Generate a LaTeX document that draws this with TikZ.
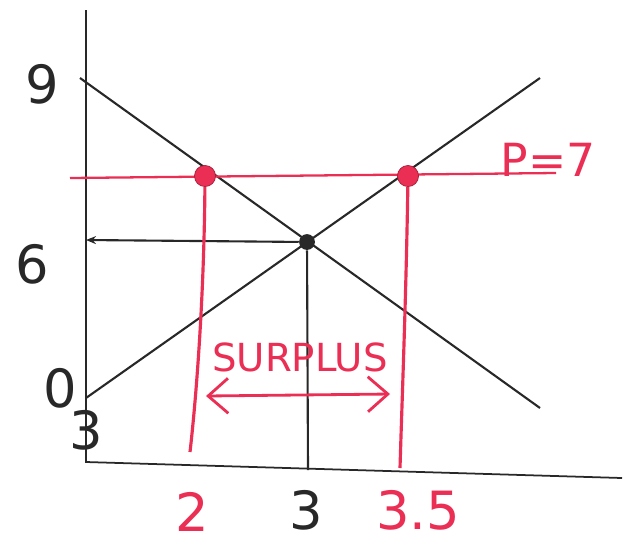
\documentclass[tikz,border=0pt]{standalone}
\usepackage{fontspec}
\setmainfont{DejaVu Sans}
\usetikzlibrary{arrows.meta}
\definecolor{penred}{RGB}{234,46,84}
\definecolor{penblack}{RGB}{40,40,40}

\begin{document}
\begin{tikzpicture}[x=0.02cm,y=-0.02cm,
  axis/.style={line width=1pt,penblack},
  curve/.style={line width=1.2pt,penblack},
  redline/.style={line width=1.3pt,penred},
  reddot/.style={circle,fill=penred,draw=penred!70!black,inner sep=0pt,minimum size=12pt},
  eqdot/.style={circle,fill=penblack,inner sep=0pt,minimum size=9pt},
  numlab/.style={font=\fontsize{30}{32}\selectfont,penblack},
  rednum/.style={font=\fontsize{30}{32}\selectfont,penred}]

  \useasboundingbox (0,0) rectangle (624,542);

  % ===== axes =====
  \coordinate (ytop) at (86,10);
  \coordinate (orig) at (86,462);
  \coordinate (xend) at (622,478);
  \draw[axis] (ytop)--(orig)--(xend);

  % ===== demand and supply =====
  \coordinate (dA) at (80,78);   \coordinate (dB) at (540,408);
  \coordinate (sA) at (86,398);  \coordinate (sB) at (540,78);
  \draw[curve] (dA)--(dB);
  \draw[curve] (sA)--(sB);

  % ===== equilibrium =====
  \node[eqdot] (eq) at (307,242){};
  \coordinate (eqy) at (86,240);
  \coordinate (eqx) at (308,470);
  \draw[curve,-{Stealth[length=2mm,width=1.6mm]}] (eq)--(eqy);
  \draw[curve] (eq)--(eqx);

  % ===== price floor P=7 =====
  \coordinate (pL) at (70,178);
  \coordinate (pR) at (556,173);
  \draw[redline] (pL)--(pR);
  \node[reddot] (qd) at (205,176){};
  \node[reddot] (qs) at (408,176){};
  \coordinate (qdb) at (190,452);
  \coordinate (qsb) at (400,468);
  \draw[redline,line width=1.8pt] (qd) .. controls (204,300) and (196,400) .. (qdb);
  \draw[redline,line width=1.8pt] (qs) .. controls (406,300) and (402,400) .. (qsb);

  % ===== surplus =====
  \coordinate (spL) at (206,396);
  \coordinate (spR) at (390,394);
  \draw[redline,line width=1.6pt,{Straight Barb[length=4mm,width=7mm]}-{Straight Barb[length=4mm,width=7mm]}] (spL)--(spR);
  \node[penred,font=\fontsize{22}{24}\selectfont] (surplus) at (300,357) {SURPLUS};
  \node[penred,font=\fontsize{26}{28}\selectfont] (plab) at (548,160) {P=7};

  % ===== labels =====
  \node[numlab] (l9) at (42,84) {9};
  \node[numlab] (l6) at (32,264) {6};
  \node[numlab] (l0) at (60,388) {0};
  \node[numlab] (l3y) at (86,430) {3};
  \node[rednum] (l2) at (192,512) {2};
  \node[numlab] (l3x) at (306,510) {3};
  \node[rednum] (l35) at (418,510) {3.5};

\end{tikzpicture}
\end{document}
